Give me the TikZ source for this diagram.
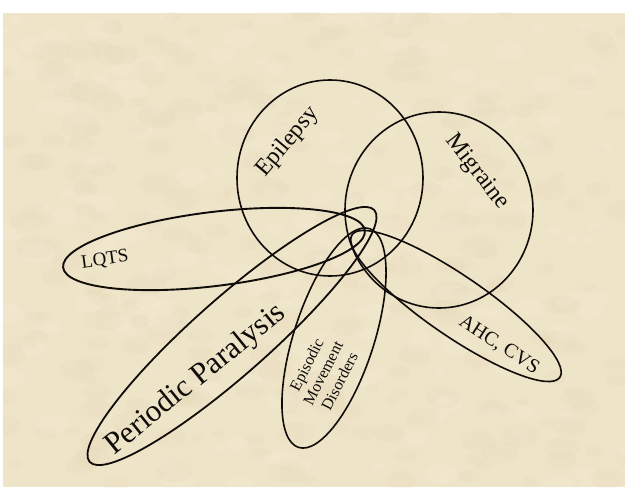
\documentclass[tikz,border=0pt]{standalone}
\usepackage{fontspec}
\setmainfont{Liberation Serif}
\usetikzlibrary{shapes.geometric}
\definecolor{parch}{RGB}{238,228,200}
\definecolor{parchdark}{RGB}{224,211,175}
\definecolor{parchlight}{RGB}{246,240,222}
\definecolor{ink}{RGB}{15,12,10}
\tikzset{
  oval/.style={ellipse, draw=ink, line width=1.6pt, inner sep=0pt, outer sep=0pt},
  lbl/.style={text=ink, inner sep=0pt, font=\fontsize{#1}{#1}\selectfont},
}
\begin{document}
\begin{tikzpicture}[x=1pt,y=1pt]
\useasboundingbox (0,0) rectangle (635,499);
\fill[white] (0,0) rectangle (635,499);
\fill[parch] (3,12) rectangle (625,486);
% paper texture
\begin{scope}
\clip (3,12) rectangle (625,486);
\pgfmathsetseed{7}
\foreach \i in {1,...,260}{
  \pgfmathsetmacro{\px}{3+622*rnd}
  \pgfmathsetmacro{\py}{12+474*rnd}
  \pgfmathsetmacro{\pr}{6+14*rnd}
  \fill[parchdark, opacity=0.14] (\px,\py) ellipse ({\pr} and {0.6*\pr});
}
\foreach \i in {1,...,200}{
  \pgfmathsetmacro{\px}{3+622*rnd}
  \pgfmathsetmacro{\py}{12+474*rnd}
  \pgfmathsetmacro{\pr}{5+12*rnd}
  \fill[parchlight, opacity=0.18] (\px,\py) ellipse ({\pr} and {0.6*\pr});
}
\end{scope}
% circles
\node[oval, minimum width=186pt, minimum height=196pt] (epi) at (330,321) {};
\node[oval, minimum width=188pt, minimum height=196pt] (mig) at (439,289) {};
% ellipses
\node[oval, line width=1.9pt, minimum width=304pt, minimum height=74pt, rotate=7] (lqts) at (214,250) {};
\node[oval, line width=1.8pt, minimum width=380pt, minimum height=76pt, rotate=41.5] (pp) at (232,163) {};
\node[oval, minimum width=230pt, minimum height=80pt, rotate=72] (emd) at (334,161) {};
\node[oval, minimum width=252pt, minimum height=60pt, rotate=-34.5] (ahc) at (456,193) {};
% labels
\node[lbl=24, rotate=50] (tepi) at (288,357) {Epilepsy};
\node[lbl=24, rotate=-52] (tmig) at (477,327) {Migraine};
\node[lbl=19, rotate=8] (tlqts) at (105,239) {LQTS};
\node[lbl=31, rotate=39] (tpp) at (196,119) {Periodic Paralysis};
\node[lbl=16, rotate=63, align=center, font=\fontsize{16}{18.5}\selectfont] (temd) at (323,126) {Episodic\\Movement\\Disorders};
\node[lbl=20, rotate=-33] (tahc) at (499,154) {AHC, CVS};
\end{tikzpicture}
\end{document}
